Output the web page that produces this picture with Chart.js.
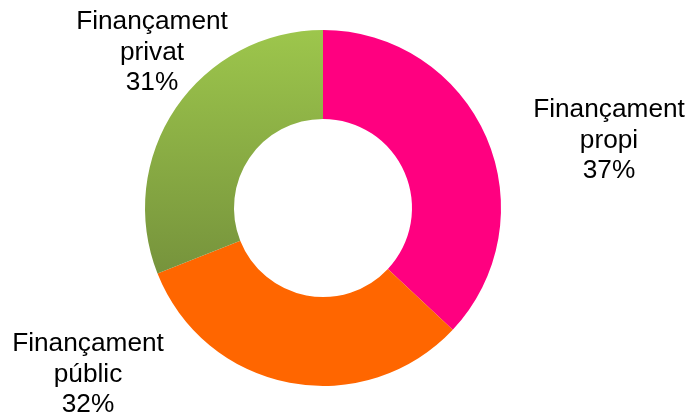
<!DOCTYPE html>
<html>
<head>
<meta charset="utf-8">
<script src="https://cdn.jsdelivr.net/npm/chart.js@4/dist/chart.umd.min.js"></script>
<style>
html,body{margin:0;padding:0;background:#fff;}
#wrap{width:690px;height:416px;position:relative;}
</style>
</head>
<body>
<div id="wrap"><canvas id="c" width="690" height="416"></canvas></div>
<script>
const categories = ["Finançament propi", "Finançament públic", "Finançament privat"];
const shares = [37, 32, 31];
const percentLabels = ["37%", "32%", "31%"];
const sliceColors = ['#ff0080', '#ff6600', null];

const labelPos = [
  {x: 609, y: 117},
  {x: 88, y: 351},
  {x: 152, y: 29}
];

const labelPlugin = {
  id: 'outerLabels',
  afterDraw(chart) {
    const ctx = chart.ctx;
    ctx.save();
    ctx.fillStyle = '#000';
    ctx.font = '25px "Liberation Sans", Arial, sans-serif';
    ctx.textAlign = 'center';
    ctx.textBaseline = 'alphabetic';
    categories.forEach((name, i) => {
      const parts = name.split(' ');
      const lines = [parts[0], parts.slice(1).join(' '), percentLabels[i]];
      const p = labelPos[i];
      lines.forEach((ln, j) => {
        ctx.save();
        ctx.translate(p.x, p.y + j * 30.5);
        ctx.scale(1.05, 1);
        ctx.fillText(ln, 0, 0);
        ctx.restore();
      });
    });
    ctx.restore();
  }
};

function sliceFill(context) {
  const i = context.dataIndex;
  if (sliceColors[i]) return sliceColors[i];
  const chart = context.chart;
  const a = chart.chartArea;
  if (!a) return '#8db045';
  const g = chart.ctx.createLinearGradient(0, a.top, 0, a.top + 245);
  g.addColorStop(0, '#9dc64c');
  g.addColorStop(1, '#76933c');
  return g;
}

new Chart(document.getElementById('c'), {
  type: 'doughnut',
  data: {
    labels: categories,
    datasets: [{
      data: shares,
      backgroundColor: sliceFill,
      borderWidth: 0,
      hoverOffset: 0
    }]
  },
  options: {
    responsive: false,
    animation: false,
    cutout: '50%',
    layout: { padding: { left: 145, right: 189, top: 30, bottom: 30 } },
    plugins: {
      legend: { display: false },
      tooltip: { enabled: false }
    }
  },
  plugins: [labelPlugin]
});
</script>
</body>
</html>
